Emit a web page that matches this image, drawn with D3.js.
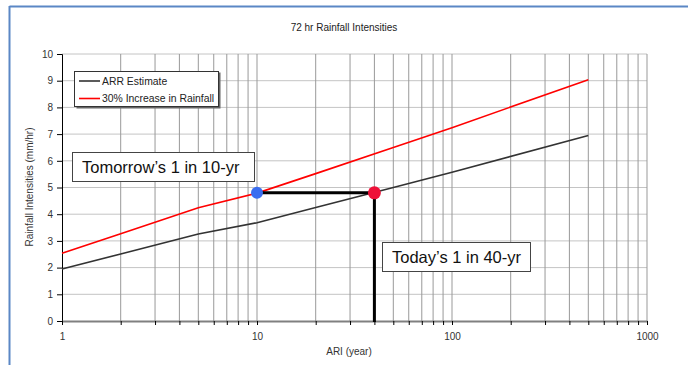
<!DOCTYPE html>
<meta charset="utf-8">
<style>
body { margin: 0; background: #fff; }
text { font-family: Arial, "Liberation Sans", sans-serif; }
</style>
<svg width="688" height="365"></svg>
<script src="https://d3js.org/d3.v7.min.js"></script>
<script>

// dados
var ari = [1, 2, 5, 10, 20, 50, 100, 500];
var arrEstimate = [1.95, 2.51, 3.26, 3.68, 4.25, 5.0, 5.57, 6.95];
var increase30 = [2.54, 3.27, 4.24, 4.79, 5.52, 6.5, 7.24, 9.04];
var serieNomes = ["ARR Estimate", "30% Increase in Rainfall"];
var serieCores = ["#333333", "#ff0000"];
var yTicks = [0, 1, 2, 3, 4, 5, 6, 7, 8, 9, 10];
var xTicks = [1, 10, 100, 1000];
// pontos marcados: hoje 1 em 40, amanhã 1 em 10
var marcaAri = [10, 40];
var marcaValor = 4.8;

var svg = d3.select("svg");

var x = d3.scaleLog().domain([1, 1000]).range([62, 647]);
var y = d3.scaleLinear().domain([0, 10]).range([321, 54]);

// moldura azul
svg.append("line").attr("x1", 9.5).attr("x2", 688).attr("y1", 6.5).attr("y2", 6.5)
    .attr("stroke", "#5b87c5").attr("stroke-width", 2);
svg.append("line").attr("x1", 9.5).attr("x2", 9.5).attr("y1", 6).attr("y2", 365)
    .attr("stroke", "#5b87c5").attr("stroke-width", 2);

svg.append("text").attr("x", 344).attr("y", 31).attr("text-anchor", "middle")
    .attr("font-size", 10).attr("fill", "#222").text("72 hr Rainfall Intensities");

// grade
var minor = [];
for (var d = 1; d < 1000; d *= 10)
  for (var k = 2; k <= 10; k++) minor.push(d * k);

svg.append("g").selectAll("line").data(yTicks.slice(1)).enter().append("line")
    .attr("x1", 62).attr("x2", 647)
    .attr("y1", d => y(d)).attr("y2", d => y(d))
    .attr("stroke", "#c4c4c4");

svg.append("g").selectAll("line").data(minor).enter().append("line")
    .attr("x1", d => x(d)).attr("x2", d => x(d))
    .attr("y1", 54).attr("y2", 321)
    .attr("stroke", "#999");

// eixos
var gy = svg.append("g").attr("transform", "translate(62,0)")
    .call(d3.axisLeft(y).tickValues(yTicks).tickSize(5).tickPadding(4));
gy.select(".domain").attr("stroke", "#000");
gy.selectAll("text").attr("font-size", 10).attr("fill", "#333");

var gx = svg.append("g").attr("transform", "translate(0,321)")
    .call(d3.axisBottom(x).tickValues([1].concat(minor)).tickSize(4).tickSizeOuter(0)
      .tickFormat(d => xTicks.indexOf(d) >= 0 ? d : ""));
gx.select(".domain").attr("stroke", "#808080").attr("stroke-width", 2);
gx.selectAll("text").attr("font-size", 10).attr("fill", "#333").attr("dy", "1.2em");

svg.append("text").attr("x", 349).attr("y", 355).attr("text-anchor", "middle")
    .attr("font-size", 10).attr("fill", "#333").text("ARI (year)");
svg.append("text").attr("transform", "translate(33,187) rotate(-90)")
    .attr("text-anchor", "middle").attr("font-size", 10).attr("fill", "#333")
    .text("Rainfall Intensities (mm/hr)");

// séries
var line = d3.line().x(d => x(d[0])).y(d => y(d[1]));
[arrEstimate, increase30].forEach(function (vals, i) {
  svg.append("path")
      .datum(ari.map((a, j) => [a, vals[j]]))
      .attr("fill", "none")
      .attr("stroke", serieCores[i])
      .attr("stroke-width", 1.6)
      .attr("d", line);
});

// linhas de marcação
svg.append("path")
    .attr("d", d3.line()([[x(marcaAri[0]), y(marcaValor)], [x(marcaAri[1]), y(marcaValor)], [x(marcaAri[1]), y(0) + 1]]))
    .attr("fill", "none").attr("stroke", "#000").attr("stroke-width", 3);

svg.append("circle").attr("cx", x(marcaAri[0])).attr("cy", y(marcaValor)).attr("r", 6)
    .attr("fill", "#3a6df0");
svg.append("circle").attr("cx", x(marcaAri[1])).attr("cy", y(marcaValor)).attr("r", 6.5)
    .attr("fill", "#ee1038");

// caixas de anotação
function caixa(x0, y0, w, h, txt) {
  svg.append("rect").attr("x", x0 + 0.5).attr("y", y0 + 0.5).attr("width", w).attr("height", h)
      .attr("fill", "#fff").attr("stroke", "#444");
  svg.append("text").attr("x", x0 + 10).attr("y", y0 + 21).attr("font-size", 16.5)
      .attr("fill", "#111").text(txt);
}
caixa(72, 152, 182, 29, "Tomorrow\u2019s 1 in 10-yr");
caixa(382, 242, 148, 29, "Today\u2019s 1 in 40-yr");

// legenda
var leg = svg.append("g");
leg.append("rect").attr("x", 76.5).attr("y", 72.5).attr("width", 144).attr("height", 36)
    .attr("fill", "#666");
leg.append("rect").attr("x", 74.5).attr("y", 71.5).attr("width", 144).attr("height", 35)
    .attr("fill", "#fff").attr("stroke", "#333");
serieNomes.forEach(function (n, i) {
  var yy = 81 + i * 17.5;
  leg.append("line").attr("x1", 79).attr("x2", 100).attr("y1", yy).attr("y2", yy)
      .attr("stroke", serieCores[i]).attr("stroke-width", 1.6);
  leg.append("text").attr("x", 102).attr("y", yy + 3.5).attr("font-size", 10.4)
      .attr("fill", "#222").text(n);
});

</script>
